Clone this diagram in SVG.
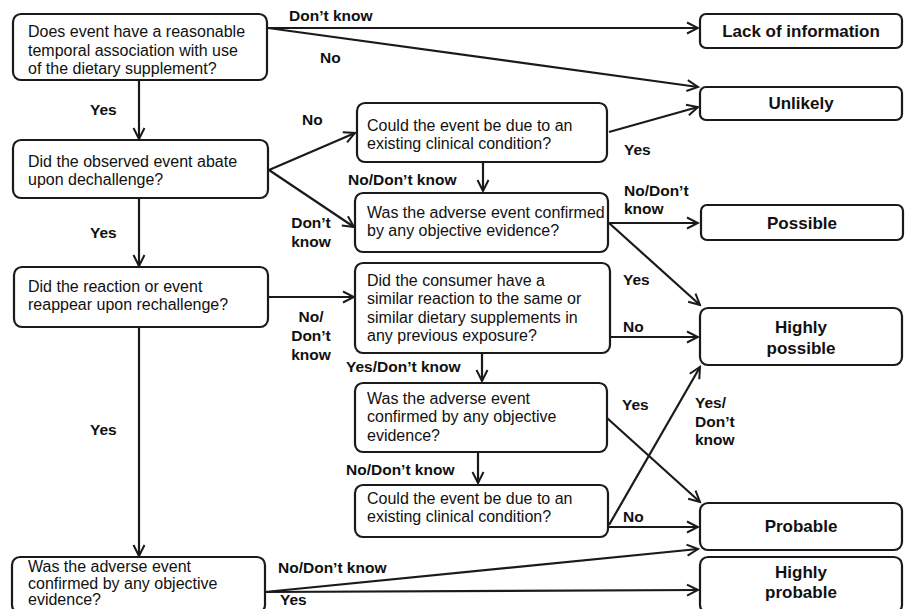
<svg xmlns="http://www.w3.org/2000/svg" width="909" height="609" viewBox="0 0 909 609">
<style>
.box{fill:#fff;stroke:#1a1a1a;stroke-width:2.2}
.t{font-family:"Liberation Sans",Arial,sans-serif;font-size:16px;fill:#111}
.r{font-family:"Liberation Sans",Arial,sans-serif;font-size:17px;font-weight:bold;fill:#111;text-anchor:middle}
.l{font-family:"Liberation Sans",Arial,sans-serif;font-size:15.5px;font-weight:bold;fill:#111}
.c{fill:none;stroke:#1a1a1a;stroke-width:2.2}
</style>
<defs>
<marker id="ah" markerWidth="14" markerHeight="14" refX="12" refY="7" orient="auto" markerUnits="userSpaceOnUse">
<path d="M1,1.5 L12,7 L1,12.5" fill="none" stroke="#1a1a1a" stroke-width="2"/>
</marker>
</defs>
<rect width="909" height="609" fill="#fff"/>

<g id="connectors">
<line class="c" x1="268" y1="28" x2="698" y2="28" marker-end="url(#ah)"/>
<line class="c" x1="268" y1="28" x2="698" y2="87" marker-end="url(#ah)"/>
<line class="c" x1="139" y1="80" x2="139" y2="139" marker-end="url(#ah)"/>
<line class="c" x1="269" y1="170" x2="355" y2="133" marker-end="url(#ah)"/>
<line class="c" x1="269" y1="170" x2="354" y2="227" marker-end="url(#ah)"/>
<line class="c" x1="483" y1="162" x2="483" y2="191" marker-end="url(#ah)"/>
<line class="c" x1="609" y1="132" x2="698" y2="107" marker-end="url(#ah)"/>
<line class="c" x1="609" y1="223" x2="698" y2="223" marker-end="url(#ah)"/>
<line class="c" x1="609" y1="223" x2="700" y2="305" marker-end="url(#ah)"/>
<line class="c" x1="139" y1="198" x2="139" y2="266" marker-end="url(#ah)"/>
<line class="c" x1="268" y1="297" x2="354" y2="297" marker-end="url(#ah)"/>
<line class="c" x1="610" y1="337" x2="698" y2="337" marker-end="url(#ah)"/>
<line class="c" x1="482" y1="353" x2="482" y2="381" marker-end="url(#ah)"/>
<line class="c" x1="607" y1="418" x2="700" y2="502" marker-end="url(#ah)"/>
<line class="c" x1="478" y1="452" x2="478" y2="483" marker-end="url(#ah)"/>
<line class="c" x1="609" y1="525" x2="700" y2="367" marker-end="url(#ah)"/>
<line class="c" x1="609" y1="527" x2="698" y2="527" marker-end="url(#ah)"/>
<line class="c" x1="139" y1="327" x2="139" y2="556" marker-end="url(#ah)"/>
<line class="c" x1="265" y1="592" x2="698" y2="549" marker-end="url(#ah)"/>
<line class="c" x1="265" y1="592" x2="698" y2="590" marker-end="url(#ah)"/>
</g>

<g id="labels">
<text class="l" x="289" y="21">Don’t know</text>
<text class="l" x="320" y="63">No</text>
<text class="l" x="90" y="115">Yes</text>
<text class="l" x="302" y="125">No</text>
<text class="l" x="348" y="185">No/Don’t know</text>
<text class="l" x="311" y="228" text-anchor="middle">Don’t</text>
<text class="l" x="311" y="247" text-anchor="middle">know</text>
<text class="l" x="90" y="238">Yes</text>
<text class="l" x="311" y="322" text-anchor="middle">No/</text>
<text class="l" x="311" y="341" text-anchor="middle">Don’t</text>
<text class="l" x="311" y="360" text-anchor="middle">know</text>
<text class="l" x="90" y="435">Yes</text>
<text class="l" x="346" y="372">Yes/Don’t know</text>
<text class="l" x="346" y="475">No/Don’t know</text>
<text class="l" x="278" y="573">No/Don’t know</text>
<text class="l" x="280" y="605">Yes</text>
<text class="l" x="624" y="155">Yes</text>
<text class="l" x="624" y="196">No/Don’t</text>
<text class="l" x="624" y="214">know</text>
<text class="l" x="623" y="285">Yes</text>
<text class="l" x="623" y="332">No</text>
<text class="l" x="622" y="410">Yes</text>
<text class="l" x="695" y="408">Yes/</text>
<text class="l" x="695" y="427">Don’t</text>
<text class="l" x="695" y="445">know</text>
<text class="l" x="623" y="522">No</text>
</g>

<g id="n1"><rect class="box" x="13" y="14" width="254" height="66" rx="8"/>
<text class="t" x="28" y="37">Does event have a reasonable</text>
<text class="t" x="28" y="56">temporal association with use</text>
<text class="t" x="28" y="74">of the dietary supplement?</text></g>

<g id="n2"><rect class="box" x="13" y="140" width="255" height="58" rx="8"/>
<text class="t" x="28" y="167">Did the observed event abate</text>
<text class="t" x="28" y="185">upon dechallenge?</text></g>

<g id="n3"><rect class="box" x="14" y="267" width="254" height="60" rx="8"/>
<text class="t" x="28" y="292">Did the reaction or event</text>
<text class="t" x="28" y="310">reappear upon rechallenge?</text></g>

<g id="n4"><rect class="box" x="12" y="557" width="253" height="56" rx="8"/>
<text class="t" x="28" y="572">Was the adverse event</text>
<text class="t" x="28" y="589">confirmed by any objective</text>
<text class="t" x="28" y="605">evidence?</text></g>

<g id="m1"><rect class="box" x="357" y="103" width="250" height="59" rx="8"/>
<text class="t" x="367" y="131">Could the event be due to an</text>
<text class="t" x="367" y="149">existing clinical condition?</text></g>

<g id="m2"><rect class="box" x="355" y="193" width="253" height="59" rx="8"/>
<text class="t" x="367" y="218">Was the adverse event confirmed</text>
<text class="t" x="367" y="236">by any objective evidence?</text></g>

<g id="m3"><rect class="box" x="355" y="263" width="255" height="90" rx="8"/>
<text class="t" x="367" y="286">Did the consumer have a</text>
<text class="t" x="367" y="304">similar reaction to the same or</text>
<text class="t" x="367" y="323">similar dietary supplements in</text>
<text class="t" x="367" y="341">any previous exposure?</text></g>

<g id="m4"><rect class="box" x="355" y="383" width="252" height="69" rx="8"/>
<text class="t" x="367" y="404">Was the adverse event</text>
<text class="t" x="367" y="422">confirmed by any objective</text>
<text class="t" x="367" y="441">evidence?</text></g>

<g id="m5"><rect class="box" x="355" y="485" width="253" height="52" rx="8"/>
<text class="t" x="367" y="504">Could the event be due to an</text>
<text class="t" x="367" y="522">existing clinical condition?</text></g>

<g id="r1"><rect class="box" x="700" y="14" width="202" height="34" rx="6"/>
<text class="r" x="801" y="37">Lack of information</text></g>
<g id="r2"><rect class="box" x="700" y="87" width="202" height="33" rx="6"/>
<text class="r" x="801" y="109">Unlikely</text></g>
<g id="r3"><rect class="box" x="701" y="205" width="202" height="35" rx="6"/>
<text class="r" x="802" y="229">Possible</text></g>
<g id="r4"><rect class="box" x="700" y="308" width="202" height="57" rx="8"/>
<text class="r" x="801" y="333">Highly</text>
<text class="r" x="801" y="354">possible</text></g>
<g id="r5"><rect class="box" x="700" y="503" width="202" height="47" rx="8"/>
<text class="r" x="801" y="532">Probable</text></g>
<g id="r6"><rect class="box" x="700" y="557" width="202" height="56" rx="8"/>
<text class="r" x="801" y="578">Highly</text>
<text class="r" x="801" y="598">probable</text></g>
</svg>
